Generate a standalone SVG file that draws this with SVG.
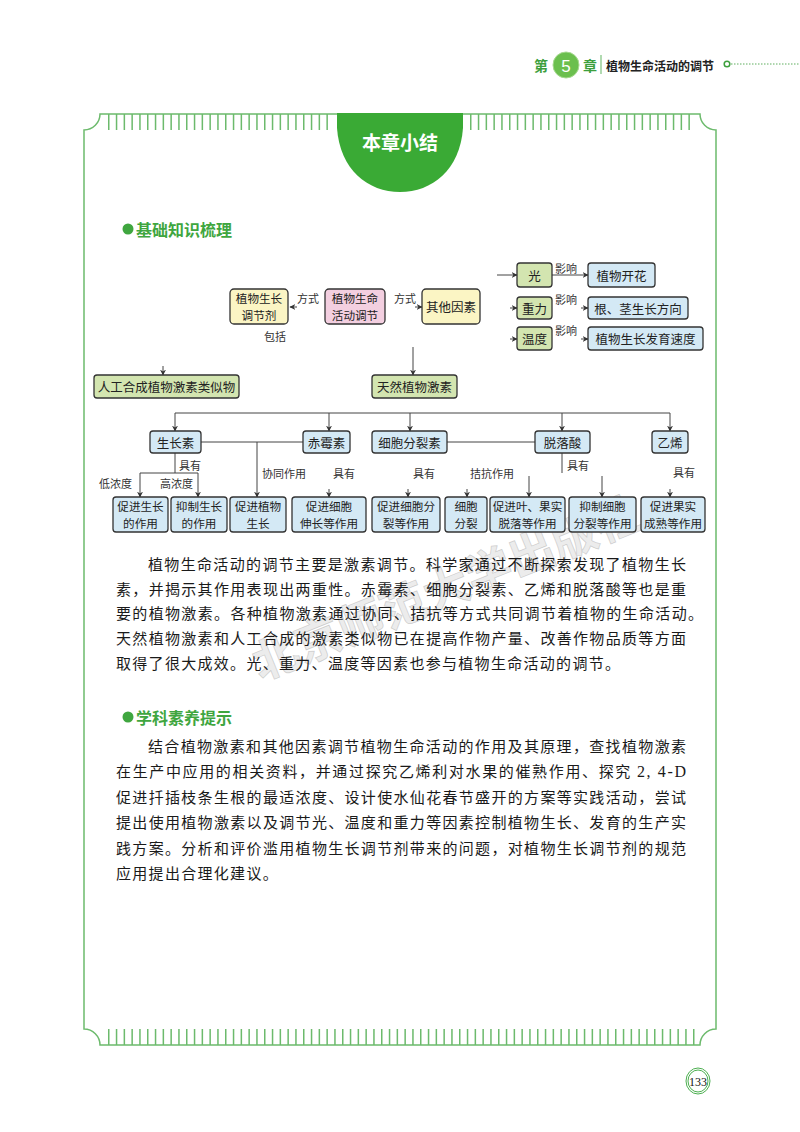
<svg xmlns="http://www.w3.org/2000/svg" width="800" height="1132" viewBox="0 0 800 1132">
<style>
.frame{fill:none;stroke:#6cba6c;stroke-width:1.5}
.ticks{fill:none;stroke:#6cba6c;stroke-width:16;stroke-dasharray:1.5 6.3}
.box{stroke:#333;stroke-width:1.3}
.y{fill:#fbf5c4}.p{fill:#f3cfe0}.g{fill:#d3e5b0}.b{fill:#d4e9f5}
.t{font-family:"Noto Sans CJK SC",sans-serif;font-size:12.5px;fill:#222;text-anchor:middle;dominant-baseline:central}
.t2{font-family:"Noto Sans CJK SC",sans-serif;font-size:11.6px;fill:#222;text-anchor:middle;dominant-baseline:central}
.l{font-family:"Noto Sans CJK SC",sans-serif;font-size:11px;fill:#333;dominant-baseline:central}
.c{fill:none;stroke:#444;stroke-width:1}
.a{fill:none;stroke:#444;stroke-width:1;marker-end:url(#ah)}
.body{font-family:"Noto Sans CJK SC",sans-serif;font-size:15px;fill:#1a1a1a;dominant-baseline:central}
.h{font-family:"Noto Sans CJK SC",sans-serif;font-size:16px;font-weight:bold;fill:#3fa63f;dominant-baseline:central}
</style>
<defs>
<marker id="ah" viewBox="0 0 10 10" refX="9" refY="5" markerWidth="6" markerHeight="6" orient="auto-start-reverse" markerUnits="userSpaceOnUse">
<path d="M0,0 L10,5 L0,10 L3,5 Z" fill="#333"/>
</marker>
</defs>

<!-- header -->
<g id="header">
<text x="541" y="65" font-family="Noto Sans CJK SC,sans-serif" font-size="14" font-weight="bold" fill="#3d9f3d" text-anchor="middle" dominant-baseline="central">第</text>
<circle cx="566" cy="65" r="13" fill="#6bbf4e" stroke="#a6d98f" stroke-width="1"/>
<text x="566" y="66" font-family="Liberation Sans,sans-serif" font-size="17" fill="#fff" text-anchor="middle" dominant-baseline="central">5</text>
<text x="590" y="65" font-family="Noto Sans CJK SC,sans-serif" font-size="14" font-weight="bold" fill="#3d9f3d" text-anchor="middle" dominant-baseline="central">章</text>
<line x1="601" y1="55" x2="601" y2="74" stroke="#7cc27c" stroke-width="1.2"/>
<text x="606" y="65" font-family="Noto Sans CJK SC,sans-serif" font-size="12" font-weight="bold" fill="#222" dominant-baseline="central">植物生命活动的调节</text>
<circle cx="727" cy="64" r="2.8" fill="#fff" stroke="#3d9f3d" stroke-width="1.5"/>
<line x1="731" y1="64" x2="800" y2="64" stroke="#5fae5f" stroke-width="1" stroke-dasharray="1.5 1.5"/>
</g>

<!-- frame -->
<g id="frame">
<path class="frame" d="M100,114 H700 A16,16 0 0 0 716,130 V1029 A16,16 0 0 0 700,1045 H100 A16,16 0 0 0 84,1029 V130 A16,16 0 0 0 100,114 Z"/>
<line class="ticks" x1="108" y1="122" x2="334" y2="122"/>
<line class="ticks" x1="470" y1="122" x2="696" y2="122"/>
<line class="ticks" x1="108" y1="1037" x2="696" y2="1037"/>
<path d="M337,113 L337,128 C340,170 368,192 400,192 C432,192 460,170 463,128 L463,113 Z" fill="#3aaa35"/>
<text x="400" y="141" font-family="Noto Sans CJK SC,sans-serif" font-size="19" font-weight="bold" fill="#fff" text-anchor="middle" dominant-baseline="central">本章小结</text>
</g>

<!-- watermark -->
<text x="445" y="585" transform="rotate(-22 445 585)" font-family="Noto Sans CJK SC,sans-serif" font-size="46" font-weight="bold" fill="#bdbdbd" fill-opacity="0.3" stroke="#9a9a9a" stroke-opacity="0.4" stroke-width="0.8" text-anchor="middle" dominant-baseline="central">北京师范大学出版社</text>

<!-- section heading 1 -->
<g id="heading1">
<circle cx="128" cy="229" r="5.5" fill="#3fa63f"/>
<text class="h" x="136" y="229">基础知识梳理</text>
</g>

<!-- connectors -->
<g id="connectors">
<path class="a" d="M297,307 H290"/>
<path class="a" d="M415,307 H422"/>
<path class="a" d="M163,366 V375"/>
<path class="a" d="M413,347 V375"/>
<path class="a" d="M497,275 H517"/>
<path class="a" d="M510,308 H517"/>
<path class="a" d="M510,339 H517"/>
<path class="a" d="M552,275 H588"/>
<path class="a" d="M581,308 H588"/>
<path class="a" d="M581,339 H588"/>
<path class="c" d="M175,413 H670"/>
<path class="a" d="M175,413 V431"/>
<path class="a" d="M329,413 V431"/>
<path class="a" d="M410,413 V431"/>
<path class="a" d="M562,413 V431"/>
<path class="a" d="M670,413 V431"/>
<path class="c" d="M201,442 H303"/>
<path class="a" d="M257,442 V497"/>
<path class="c" d="M447,442 H535"/>
<path class="c" d="M175,453 V473 M140,473 H198"/>
<path class="a" d="M140,473 V497"/>
<path class="a" d="M198,473 V497"/>
<path class="a" d="M329,489 V497"/>
<path class="a" d="M408,489 V497"/>
<path class="a" d="M467,489 V497"/>
<path class="c" d="M562,453 V473"/>
<path class="a" d="M529,476 V497"/>
<path class="a" d="M602,476 V497"/>
<path class="a" d="M670,489 V497"/>
</g>

<!-- connector labels -->
<g id="labels">
<text class="l" x="297" y="298">方式</text>
<text class="l" x="394" y="298">方式</text>
<text class="l" x="264" y="336">包括</text>
<text class="l" x="555" y="268" font-size="10">影响</text>
<text class="l" x="555" y="299" font-size="10">影响</text>
<text class="l" x="555" y="330" font-size="10">影响</text>
<text class="l" x="179" y="465">具有</text>
<text class="l" x="99" y="483">低浓度</text>
<text class="l" x="160" y="483">高浓度</text>
<text class="l" x="262" y="473">协同作用</text>
<text class="l" x="333" y="473">具有</text>
<text class="l" x="413" y="473">具有</text>
<text class="l" x="470" y="473">拮抗作用</text>
<text class="l" x="567" y="465">具有</text>
<text class="l" x="673" y="472">具有</text>
</g>

<!-- nodes -->
<g id="n_regulator"><rect class="box y" x="230" y="289" width="58" height="35" rx="4"/><text class="t2" x="259" y="298">植物生长</text><text class="t2" x="259" y="315">调节剂</text></g>
<g id="n_regulation"><rect class="box p" x="325" y="289" width="60" height="35" rx="4"/><text class="t2" x="355" y="298">植物生命</text><text class="t2" x="355" y="315">活动调节</text></g>
<g id="n_other"><rect class="box y" x="422" y="289" width="58" height="35" rx="4"/><text class="t" x="451" y="306.5">其他因素</text></g>
<g id="n_light"><rect class="box g" x="517" y="263" width="35" height="24" rx="3"/><text class="t" x="534.5" y="275">光</text></g>
<g id="n_gravity"><rect class="box g" x="517" y="297" width="35" height="22" rx="3"/><text class="t" x="534.5" y="308">重力</text></g>
<g id="n_temp"><rect class="box g" x="517" y="327" width="35" height="23" rx="3"/><text class="t" x="534.5" y="338.5">温度</text></g>
<g id="n_flower"><rect class="box b" x="588" y="263" width="67" height="24" rx="3"/><text class="t" x="621.5" y="275">植物开花</text></g>
<g id="n_direction"><rect class="box b" x="588" y="297" width="100" height="22" rx="3"/><text class="t" x="638" y="308">根、茎生长方向</text></g>
<g id="n_speed"><rect class="box b" x="588" y="327" width="115" height="23" rx="3"/><text class="t" x="645.5" y="338.5">植物生长发育速度</text></g>
<g id="n_synthetic"><rect class="box g" x="94" y="375" width="145" height="23" rx="3"/><text class="t" x="166.5" y="386.5">人工合成植物激素类似物</text></g>
<g id="n_natural"><rect class="box g" x="372" y="375" width="85" height="23" rx="3"/><text class="t" x="414.5" y="386.5">天然植物激素</text></g>

<g id="n_auxin"><rect class="box b" x="150" y="431" width="51" height="22" rx="3"/><text class="t" x="175.5" y="442">生长素</text></g>
<g id="n_gibberellin"><rect class="box b" x="303" y="431" width="47" height="22" rx="3"/><text class="t" x="326.5" y="442">赤霉素</text></g>
<g id="n_cytokinin"><rect class="box b" x="372" y="431" width="75" height="22" rx="3"/><text class="t" x="409.5" y="442">细胞分裂素</text></g>
<g id="n_aba"><rect class="box b" x="535" y="431" width="55" height="22" rx="3"/><text class="t" x="562.5" y="442">脱落酸</text></g>
<g id="n_ethylene"><rect class="box b" x="652" y="431" width="36" height="22" rx="3"/><text class="t" x="670" y="442">乙烯</text></g>

<g id="r1"><rect class="box b" x="113" y="497" width="55" height="35" rx="3"/><text class="t2" x="140.5" y="506">促进生长</text><text class="t2" x="140.5" y="523">的作用</text></g>
<g id="r2"><rect class="box b" x="171" y="497" width="56" height="35" rx="3"/><text class="t2" x="199" y="506">抑制生长</text><text class="t2" x="199" y="523">的作用</text></g>
<g id="r3"><rect class="box b" x="230" y="497" width="56" height="35" rx="3"/><text class="t2" x="258" y="506">促进植物</text><text class="t2" x="258" y="523">生长</text></g>
<g id="r4"><rect class="box b" x="292" y="497" width="74" height="35" rx="3"/><text class="t2" x="329" y="506">促进细胞</text><text class="t2" x="329" y="523">伸长等作用</text></g>
<g id="r5"><rect class="box b" x="372" y="497" width="68" height="35" rx="3"/><text class="t2" x="406" y="506">促进细胞分</text><text class="t2" x="406" y="523">裂等作用</text></g>
<g id="r6"><rect class="box b" x="445" y="497" width="42" height="35" rx="3"/><text class="t2" x="466" y="506">细胞</text><text class="t2" x="466" y="523">分裂</text></g>
<g id="r7"><rect class="box b" x="490" y="497" width="75" height="35" rx="3"/><text class="t2" x="527.5" y="506">促进叶、果实</text><text class="t2" x="527.5" y="523">脱落等作用</text></g>
<g id="r8"><rect class="box b" x="569" y="497" width="67" height="35" rx="3"/><text class="t2" x="602.5" y="506">抑制细胞</text><text class="t2" x="602.5" y="523">分裂等作用</text></g>
<g id="r9"><rect class="box b" x="641" y="497" width="64" height="35" rx="3"/><text class="t2" x="673" y="506">促进果实</text><text class="t2" x="673" y="523">成熟等作用</text></g>

<!-- paragraph 1 -->
<g id="para1">
<text class="body" x="148" y="563" textLength="538" lengthAdjust="spacing">植物生命活动的调节主要是激素调节。科学家通过不断探索发现了植物生长</text>
<text class="body" x="116" y="588" textLength="570" lengthAdjust="spacing">素，并揭示其作用表现出两重性。赤霉素、细胞分裂素、乙烯和脱落酸等也是重</text>
<text class="body" x="116" y="612" textLength="587" lengthAdjust="spacing">要的植物激素。各种植物激素通过协同、拮抗等方式共同调节着植物的生命活动。</text>
<text class="body" x="116" y="637" textLength="570" lengthAdjust="spacing">天然植物激素和人工合成的激素类似物已在提高作物产量、改善作物品质等方面</text>
<text class="body" x="116" y="662" letter-spacing="1.3">取得了很大成效。光、重力、温度等因素也参与植物生命活动的调节。</text>
</g>

<!-- section heading 2 -->
<g id="heading2">
<circle cx="128" cy="717" r="5.5" fill="#3fa63f"/>
<text class="h" x="136" y="717">学科素养提示</text>
</g>

<!-- paragraph 2 -->
<g id="para2">
<text class="body" x="148" y="745" textLength="538" lengthAdjust="spacing">结合植物激素和其他因素调节植物生命活动的作用及其原理，查找植物激素</text>
<text class="body" x="116" y="770.5" textLength="570" lengthAdjust="spacing">在生产中应用的相关资料，并通过探究乙烯利对水果的催熟作用、探究 <tspan font-family="Liberation Serif,serif" font-size="16">2, 4-D</tspan></text>
<text class="body" x="116" y="796" textLength="570" lengthAdjust="spacing">促进扦插枝条生根的最适浓度、设计使水仙花春节盛开的方案等实践活动，尝试</text>
<text class="body" x="116" y="821.5" textLength="570" lengthAdjust="spacing">提出使用植物激素以及调节光、温度和重力等因素控制植物生长、发育的生产实</text>
<text class="body" x="116" y="847" textLength="570" lengthAdjust="spacing">践方案。分析和评价滥用植物生长调节剂带来的问题，对植物生长调节剂的规范</text>
<text class="body" x="116" y="872.5" letter-spacing="1.3">应用提出合理化建议。</text>
</g>

<!-- page number -->
<g id="pagenum">
<ellipse cx="698" cy="1081" rx="12" ry="13" fill="none" stroke="#4caf50" stroke-width="1"/>
<ellipse cx="698" cy="1081" rx="10" ry="11" fill="none" stroke="#4caf50" stroke-width="1"/>
<text x="698" y="1082" font-family="Liberation Serif,serif" font-size="12" fill="#111" text-anchor="middle" dominant-baseline="central">133</text>
</g>
</svg>
